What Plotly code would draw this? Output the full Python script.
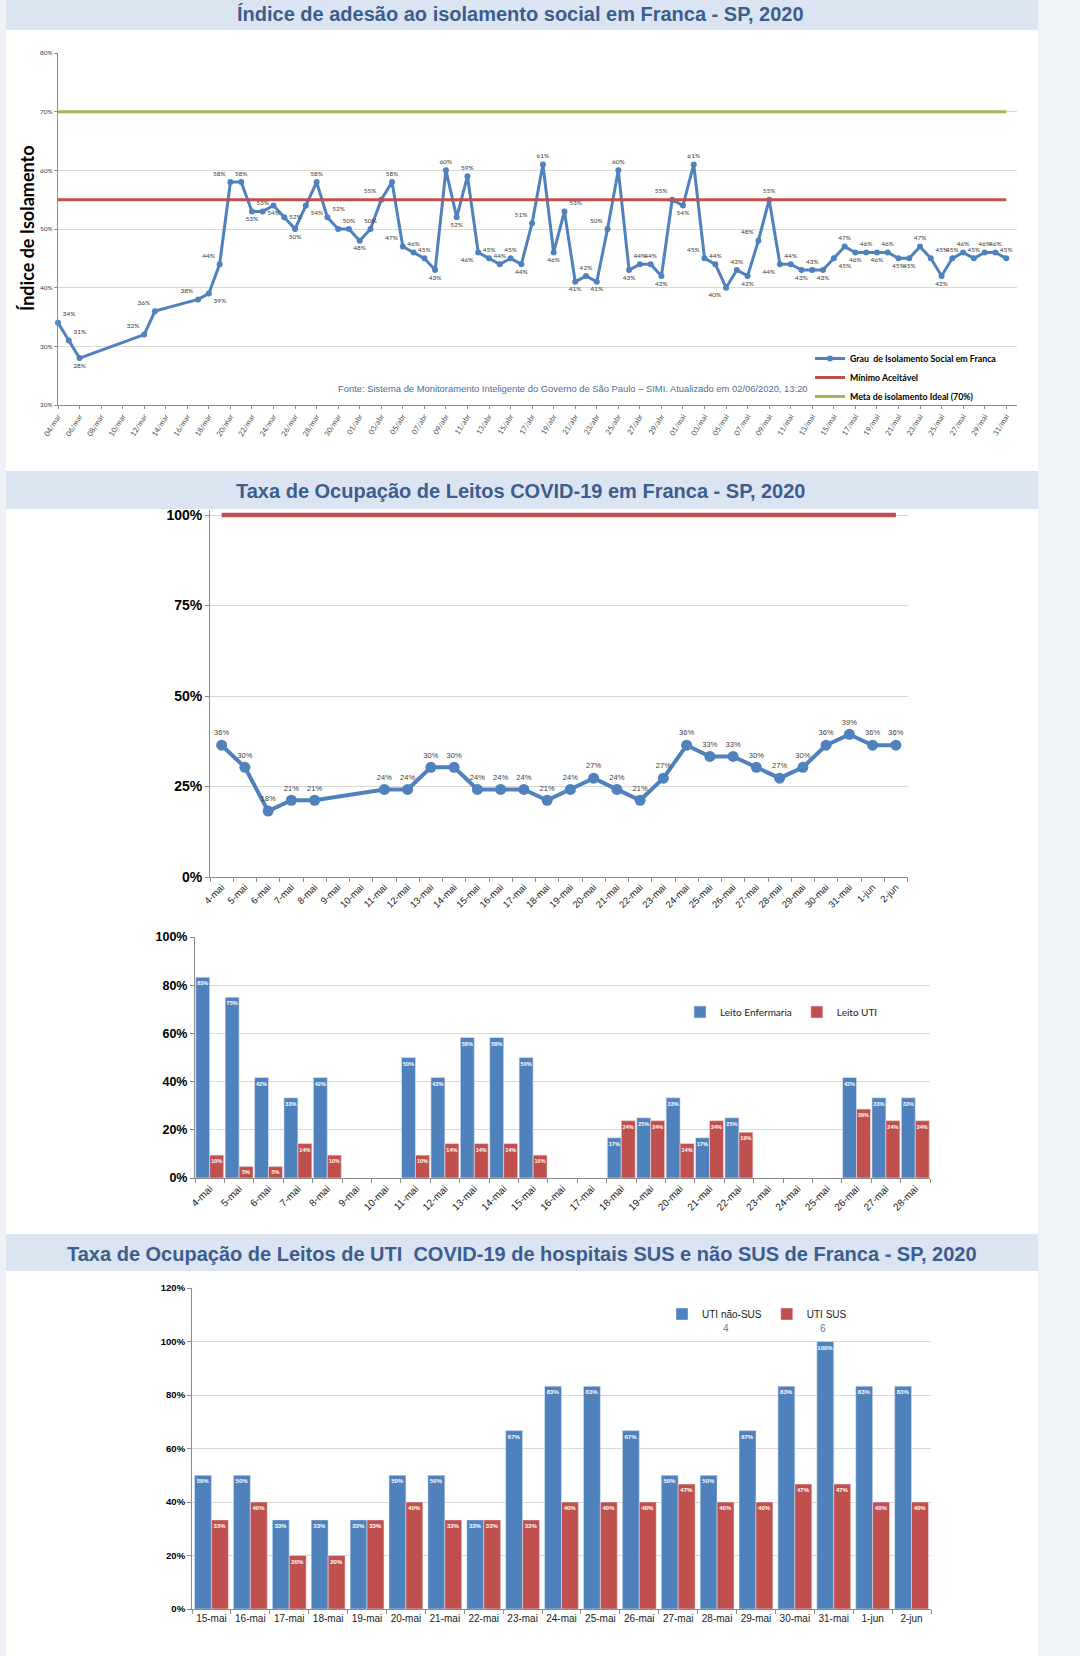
import plotly.graph_objects as go
import pandas as pd

W, H = 1080, 1656
def X(px): return px / W
def Y(py): return 1 - py / H

# ---------------- DATA ----------------
# Chart 1: social isolation index (%)
dias_mar = [4, 5, 6, 12, 13, 17, 18, 19, 20, 21, 22, 23, 24, 25, 26, 27, 28, 29, 30, 31]
iso_mar = [34, 31, 28, 32, 36, 38, 39, 44, 58, 58, 53, 53, 54, 52, 50, 54, 58, 52, 50, 50]
dias_abr = list(range(1, 31))
iso_abr = [48, 50, 55, 58, 47, 46, 45, 43, 60, 52, 59, 46, 45, 44, 45, 44, 51, 61, 46, 53,
           41, 42, 41, 50, 60, 43, 44, 44, 42, 55]
dias_mai = list(range(1, 32))
iso_mai = [54, 61, 45, 44, 40, 43, 42, 48, 55, 44, 44, 43, 43, 43, 45, 47, 46, 46, 46, 46,
           45, 45, 47, 45, 42, 45, 46, 45, 46, 46, 45]
minimo_aceitavel = 55
meta_ideal = 70

iso_dates = ([f"2020-03-{d:02d}" for d in dias_mar] + [f"2020-04-{d:02d}" for d in dias_abr]
             + [f"2020-05-{d:02d}" for d in dias_mai])
iso_vals = iso_mar + iso_abr + iso_mai

meses_pt = {3: "mar", 4: "abr", 5: "mai"}
tick_dates = pd.date_range("2020-03-04", "2020-05-31", freq="2D")
tick_vals1 = [d.strftime("%Y-%m-%d") for d in tick_dates]
tick_text1 = [f"{d.day:02d}/{meses_pt[d.month]}" for d in tick_dates]

# Chart 2: COVID-19 bed occupancy (%)
cats2 = ["4-mai", "5-mai", "6-mai", "7-mai", "8-mai", "9-mai", "10-mai", "11-mai", "12-mai",
         "13-mai", "14-mai", "15-mai", "16-mai", "17-mai", "18-mai", "19-mai", "20-mai",
         "21-mai", "22-mai", "23-mai", "24-mai", "25-mai", "26-mai", "27-mai", "28-mai",
         "29-mai", "30-mai", "31-mai", "1-jun", "2-jun"]
ocup = [36.4, 30.3, 18.2, 21.2, 21.2, None, None, 24.2, 24.2, 30.3, 30.3, 24.2, 24.2, 24.2,
        21.2, 24.2, 27.3, 24.2, 21.2, 27.3, 36.4, 33.3, 33.3, 30.3, 27.3, 30.3, 36.4, 39.4,
        36.4, 36.4]
limite = 100
ticks2 = [0, 25, 50, 75, 100]

# Chart 3: ward vs ICU beds (%)
cats3 = ["4-mai", "5-mai", "6-mai", "7-mai", "8-mai", "9-mai", "10-mai", "11-mai", "12-mai",
         "13-mai", "14-mai", "15-mai", "16-mai", "17-mai", "18-mai", "19-mai", "20-mai",
         "21-mai", "22-mai", "23-mai", "24-mai", "25-mai", "26-mai", "27-mai", "28-mai"]
enfermaria = [83.3, 75, 41.7, 33.3, 41.7, None, None, 50, 41.7, 58.3, 58.3, 50, None, None,
              16.7, 25, 33.3, 16.7, 25, None, None, None, 41.7, 33.3, 33.3]
uti = [9.5, 4.8, 4.8, 14.3, 9.5, None, None, 9.5, 14.3, 14.3, 14.3, 9.5, None, None,
       23.8, 23.8, 14.3, 23.8, 19.0, None, None, None, 28.6, 23.8, 23.8]

# Chart 4: ICU SUS vs non-SUS (%)
cats4 = ["15-mai", "16-mai", "17-mai", "18-mai", "19-mai", "20-mai", "21-mai", "22-mai",
         "23-mai", "24-mai", "25-mai", "26-mai", "27-mai", "28-mai", "29-mai", "30-mai",
         "31-mai", "1-jun", "2-jun"]
uti_nao_sus = [50, 50, 33.3, 33.3, 33.3, 50, 50, 33.3, 66.7, 83.3, 83.3, 66.7, 50, 50, 66.7,
               83.3, 100, 83.3, 83.3]
uti_sus = [33.3, 40, 20, 20, 33.3, 40, 33.3, 33.3, 33.3, 40, 40, 40, 46.7, 40, 40, 46.7,
           46.7, 40, 40]

# ---------------- STYLE ----------------
BLUE = "#4f81bd"
RED = "#c0504d"
GREEN = "#9bbb59"
TITLE_C = "#3b5e8f"
BAND = "#dbe5f1"
PAGE = "#eff2f6"
GRID = "#d9d9d9"
AXIS = "#8c8c8c"
ARIAL = "Liberation Sans, Arial, sans-serif"
CALI = "Lato, sans-serif"

T, B, TL, TR, BL, BR, MR = ("top center", "bottom center", "top left", "top right",
                            "bottom left", "bottom right", "middle right")
pos_mar = [TR, TR, B, TL, TL, TL, BR, TL, TL, T, B, T, B, MR, B, BR, T, TR, None, T]
pos_abr = [B, T, TL, T, TL, T, T, B, T, B, T, BL, T, T, T, B, TL, T, B, TR,
           B, T, B, TL, T, B, T, T, B, TL]
pos_mai = [B, T, TL, T, BL, T, B, TL, T, BL, T, B, T, B, BR, T, B, T, B, T,
           B, B, T, TR, B, T, T, T, T, T, T]
label_pos = pos_mar + pos_abr + pos_mai
iso_text = [f"{v}%" if p else "" for v, p in zip(iso_vals, label_pos)]
iso_textpos = [p if p else "top center" for p in label_pos]

fig = go.Figure()

# Chart 1 traces
fig.add_trace(go.Scatter(
    x=iso_dates, y=iso_vals, mode="lines+markers+text", name="Grau  de Isolamento Social em Franca",
    line=dict(color=BLUE, width=3), marker=dict(color=BLUE, size=6),
    text=iso_text, textposition=iso_textpos,
    textfont=dict(family=CALI, size=6.5, color="#3a3a3a"),
    xaxis="x", yaxis="y", legend="legend", cliponaxis=False))
fig.add_trace(go.Scatter(
    x=[iso_dates[0], iso_dates[-1]], y=[minimo_aceitavel] * 2, mode="lines",
    name="Mínimo Aceitável", line=dict(color=RED, width=3),
    xaxis="x", yaxis="y", legend="legend"))
fig.add_trace(go.Scatter(
    x=[iso_dates[0], iso_dates[-1]], y=[meta_ideal] * 2, mode="lines",
    name="Meta de isolamento Ideal (70%)", line=dict(color=GREEN, width=3),
    xaxis="x", yaxis="y", legend="legend"))

# Chart 2 traces
fig.add_trace(go.Scatter(
    x=[cats2[0], cats2[-1]], y=[limite] * 2, mode="lines", line=dict(color=RED, width=4.5),
    showlegend=False, xaxis="x2", yaxis="y2"))
fig.add_trace(go.Scatter(
    x=cats2, y=ocup, mode="lines+markers+text", connectgaps=True,
    line=dict(color=BLUE, width=4), marker=dict(color=BLUE, size=11),
    texttemplate="%{y:.0f}%", textposition="top center",
    textfont=dict(family=ARIAL, size=7.5, color="#404040"),
    showlegend=False, xaxis="x2", yaxis="y2", cliponaxis=False))

# Chart 3 traces
bar_txt = dict(family=ARIAL, size=5.5, color="white", weight="bold")
fig.add_trace(go.Bar(
    x=cats3, y=enfermaria, name="Leito Enfermaria", marker_color=BLUE,
    marker_line=dict(color="#dfe8f3", width=0.6),
    texttemplate="%{y:.0f}%", textposition="inside", insidetextanchor="end",
    textangle=0, constraintext="none", textfont=bar_txt,
    xaxis="x3", yaxis="y3", legend="legend2"))
fig.add_trace(go.Bar(
    x=cats3, y=uti, name="Leito UTI", marker_color=RED,
    marker_line=dict(color="#f2dcdb", width=0.6),
    texttemplate="%{y:.0f}%", textposition="inside", insidetextanchor="end",
    textangle=0, constraintext="none", textfont=bar_txt,
    xaxis="x3", yaxis="y3", legend="legend2"))

# Chart 4 traces
bar_txt4 = dict(family=ARIAL, size=6, color="white", weight="bold")
fig.add_trace(go.Bar(
    x=cats4, y=uti_nao_sus, name="UTI não-SUS", marker_color=BLUE,
    texttemplate="%{y:.0f}%", textposition="inside", insidetextanchor="end",
    textangle=0, constraintext="none", textfont=bar_txt4,
    width=0.435, offset=-0.435,
    xaxis="x4", yaxis="y4", legend="legend3"))
fig.add_trace(go.Bar(
    x=cats4, y=uti_sus, name="UTI SUS", marker_color=RED,
    texttemplate="%{y:.0f}%", textposition="inside", insidetextanchor="end",
    textangle=0, constraintext="none", textfont=bar_txt4,
    width=0.435, offset=0.0,
    xaxis="x4", yaxis="y4", legend="legend3"))

# ---------------- LAYOUT ----------------
def ax_common(**kw):
    d = dict(showline=True, linecolor=AXIS, linewidth=1, ticks="outside", tickcolor=AXIS,
             zeroline=False, fixedrange=True, automargin=False)
    d.update(kw)
    return d

layout = dict(
    width=W, height=H, margin=dict(l=0, r=0, t=0, b=0, pad=0, autoexpand=False),
    paper_bgcolor=PAGE, plot_bgcolor="white", barmode="group",
    xaxis=ax_common(domain=[X(58), X(1017)], anchor="y", type="date",
                    range=["2020-03-04", "2020-06-01"], tickvals=tick_vals1, ticktext=tick_text1,
                    tickangle=-58, ticklen=3, showgrid=False,
                    tickfont=dict(family=CALI, size=7.5, color="#4d4d4d")),
    yaxis=ax_common(domain=[Y(405), Y(53)], anchor="x", range=[20, 80], dtick=10,
                    ticksuffix="%", ticklen=3, showgrid=True, gridcolor=GRID,
                    tickfont=dict(family=CALI, size=6.5, color="#404040")),
    xaxis2=ax_common(domain=[X(210), X(907.5)], anchor="y2", type="category",
                     categoryorder="array", categoryarray=cats2, range=[-0.5, 29.5],
                     tickson="boundaries", ticklen=4, tickangle=-45, showgrid=False,
                     tickfont=dict(family=ARIAL, size=9.5, color="#1a1a1a")),
    yaxis2=ax_common(domain=[Y(877), Y(877 - 3.62 * 101.5)], anchor="x2", range=[0, 101.5],
                     tickvals=ticks2, ticktext=[f"{t}%" for t in ticks2], ticklen=4,
                     showgrid=True, gridcolor=GRID,
                     tickfont=dict(family=ARIAL, size=14, color="black", weight="bold")),
    xaxis3=ax_common(domain=[X(195), X(930)], anchor="y3", type="category",
                     categoryorder="array", categoryarray=cats3, range=[-0.5, 24.5],
                     tickson="boundaries", ticklen=4, tickangle=-45, showgrid=False,
                     tickfont=dict(family=ARIAL, size=10, color="#1a1a1a")),
    yaxis3=ax_common(domain=[Y(1178), Y(937)], anchor="x3", range=[0, 100], dtick=20,
                     ticksuffix="%", ticklen=4, showgrid=True, gridcolor=GRID,
                     tickfont=dict(family=ARIAL, size=12.5, color="black", weight="bold")),
    xaxis4=ax_common(domain=[X(192), X(931)], anchor="y4", type="category",
                     categoryorder="array", categoryarray=cats4, range=[-0.5, 18.5],
                     tickson="boundaries", ticklen=4, tickangle=0, showgrid=False,
                     tickfont=dict(family=ARIAL, size=10, color="#1a1a1a")),
    yaxis4=ax_common(domain=[Y(1609), Y(1288)], anchor="x4", range=[0, 120], dtick=20,
                     ticksuffix="%", ticklen=4, showgrid=True, gridcolor=GRID,
                     tickfont=dict(family=ARIAL, size=9.5, color="black", weight="bold")),
    bargap=0.05, bargroupgap=0,
    legend=dict(x=X(810), y=Y(344), xanchor="left", yanchor="top", bgcolor="rgba(0,0,0,0)",
                font=dict(family=CALI, size=8.8, color="black", weight="bold"),
                tracegroupgap=0, itemwidth=30),
    legend2=dict(x=X(680), y=Y(1012), xanchor="left", yanchor="middle", orientation="h",
                 bgcolor="rgba(0,0,0,0)", font=dict(family=CALI, size=10, color="#1a1a1a")),
    legend3=dict(x=X(662), y=Y(1314), xanchor="left", yanchor="middle", orientation="h",
                 bgcolor="rgba(0,0,0,0)", font=dict(family=ARIAL, size=10, color="#1a1a1a")),
)
fig.update_layout(**layout)

# Background panels and title bands
shapes = [
    dict(type="rect", xref="paper", yref="paper", x0=X(6), x1=X(1038), y0=0, y1=1,
         fillcolor="white", line_width=0, layer="below"),
    dict(type="rect", xref="paper", yref="paper", x0=X(6), x1=X(1038), y0=Y(30), y1=Y(0),
         fillcolor=BAND, line_width=0, layer="below"),
    dict(type="rect", xref="paper", yref="paper", x0=X(6), x1=X(1038), y0=Y(509), y1=Y(471),
         fillcolor=BAND, line_width=0, layer="below"),
    dict(type="rect", xref="paper", yref="paper", x0=X(6), x1=X(1038), y0=Y(1271), y1=Y(1234),
         fillcolor=BAND, line_width=0, layer="below"),
]
fig.update_layout(shapes=shapes)

def ann(text, px, py, size, color, family=ARIAL, angle=0, xanchor="center"):
    return dict(text=text, x=X(px), y=Y(py), xref="paper", yref="paper", showarrow=False,
                font=dict(family=family, size=size, color=color), textangle=angle,
                xanchor=xanchor, yanchor="middle")

annotations = [
    ann("<b>Índice de adesão ao isolamento social em Franca - SP, 2020</b>", 520, 14, 20, TITLE_C),
    ann("<b>Taxa de Ocupação de Leitos COVID-19 em Franca - SP, 2020</b>", 521, 491, 20, TITLE_C),
    ann("<b>Taxa de Ocupação de Leitos de UTI  COVID-19 de hospitais SUS e não SUS de Franca - SP, 2020</b>",
        522, 1254, 20, TITLE_C),
    ann("<b>Índice de Isolamento</b>", 27, 229, 18, "black", family=CALI, angle=-90),
    ann("Fonte: Sistema de Monitoramento Inteligente do Governo de São Paulo – SIMI. Atualizado em 02/06/2020, 13:20",
        573, 388, 9.4, "#4a6e9e"),
    ann("4", 726, 1328, 10, "#4f81bd"),
    ann("6", 823, 1328, 10, "#4f81bd"),
]
fig.update_layout(annotations=annotations)

fig.write_html("out.html", config={"displayModeBar": False},
               post_script="document.body.style.margin='0';")
